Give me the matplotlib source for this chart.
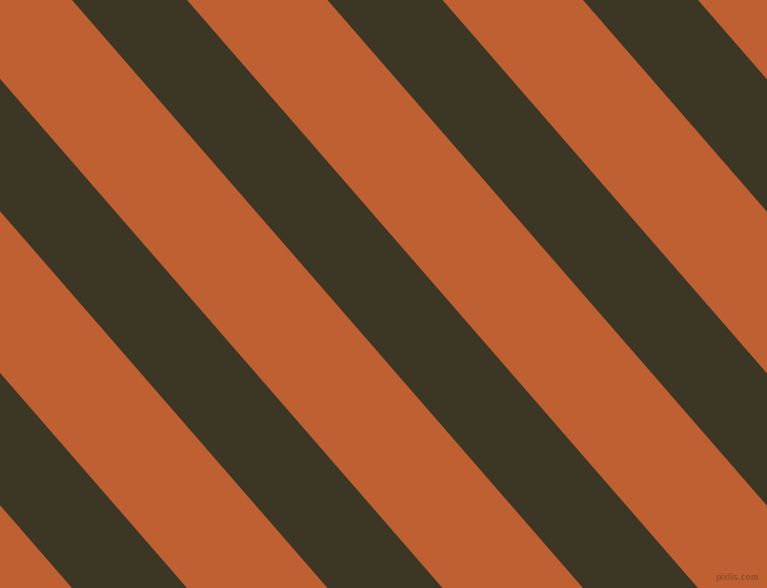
import matplotlib
matplotlib.use('Agg')
from matplotlib import pyplot as plt

# canvas size in pixels
W = 767
H = 588

# COLOURS
ORANGE = '#be6032'
DARK = '#3c3625'

# dark stripes: left edge where each stripe meets the top edge, and its width
stripe_starts = [-439, -183.5, 72, 327.5, 583]
stripe_width = 115
# horizontal shift of a stripe edge per pixel going down
slant = 0.869

fig = plt.figure(figsize=(W / 100, H / 100), dpi=100)
ax = fig.add_axes([0, 0, 1, 1])
ax.set_facecolor(ORANGE)
ax.set_xlim(0, W)
ax.set_ylim(H, 0)
ax.axis('off')
fig.patch.set_facecolor(ORANGE)

for x0 in stripe_starts:
    x1 = x0 + stripe_width
    xs = [x0, x1, x1 + slant * H, x0 + slant * H]
    ys = [0, 0, H, H]
    ax.fill(xs, ys, color=DARK, linewidth=0)

ax.text(759, 577, 'pixlis.com', fontsize=5.5, color='#9a4e2a', ha='right', va='center',
        fontweight='bold')

fig.savefig('out.png', dpi=100, facecolor=ORANGE)
